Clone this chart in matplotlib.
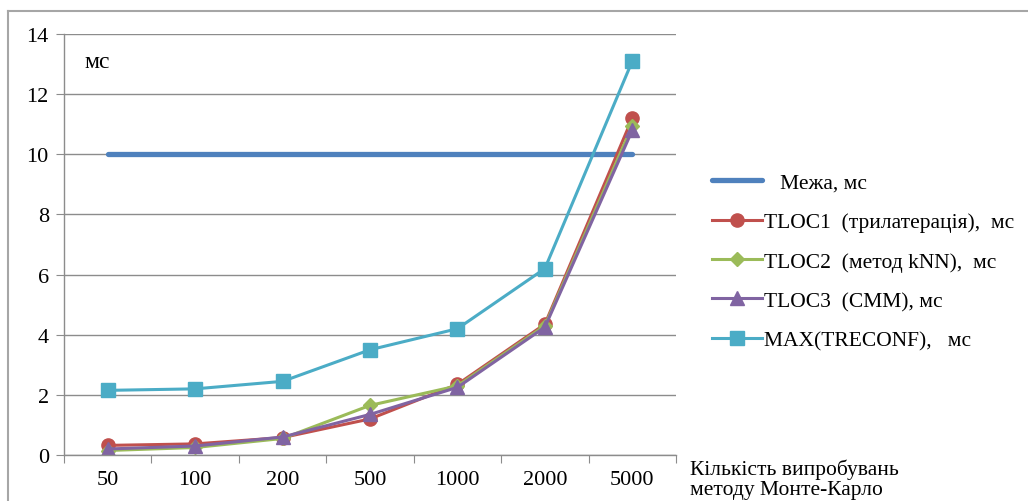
import matplotlib.pyplot as plt
from matplotlib.lines import Line2D

plt.rcParams['font.family'] = 'serif'
plt.rcParams['font.serif'] = ['Liberation Serif', 'DejaVu Serif']

trials = ['50', '100', '200', '500', '1000', '2000', '5000']
limit = [10, 10, 10, 10, 10, 10, 10]
tloc1 = [0.32, 0.37, 0.58, 1.2, 2.35, 4.35, 11.2]
tloc2 = [0.15, 0.25, 0.55, 1.65, 2.3, 4.3, 10.95]
tloc3 = [0.2, 0.3, 0.6, 1.35, 2.25, 4.25, 10.8]
treconf = [2.15, 2.2, 2.45, 3.5, 4.2, 6.2, 13.1]

x = list(range(len(trials)))

fig = plt.figure(figsize=(10.28, 5.02), dpi=100)
ax = fig.add_axes([0.0623, 0.0916, 0.5953, 0.8387])

ax.plot(x, limit, color='#4F81BD', lw=3.8, solid_capstyle='round',
        label='   Межа, мс')
ax.plot(x, tloc1, color='#C0504D', lw=2.2, marker='o', ms=9.5,
        label='TLOC1  (трилатерація),  мс')
ax.plot(x, tloc2, color='#9BBB59', lw=2.2, marker='D', ms=7,
        label='TLOC2  (метод kNN),  мс')
ax.plot(x, tloc3, color='#8064A2', lw=2.2, marker='^', ms=10.5,
        label='TLOC3  (СММ), мс')
ax.plot(x, treconf, color='#4BACC6', lw=2.2, marker='s', ms=9.5,
        label='MAX(TRECONF),   мс')

ax.set_xlim(-0.5, len(trials) - 0.5)
ax.set_ylim(0, 14)
ax.set_yticks(range(0, 15, 2))
ax.set_xticks([i - 0.5 for i in range(len(trials) + 1)])
ax.set_xticklabels([])
ax.set_xticks(x, minor=True)
ax.set_xticklabels(trials, minor=True)

ax.grid(axis='y', color='#8c8c8c', lw=1)
ax.set_axisbelow(True)
for s in ['top', 'right']:
    ax.spines[s].set_visible(False)
for s in ['left', 'bottom']:
    ax.spines[s].set_color('#8c8c8c')
    ax.spines[s].set_linewidth(1)

ax.tick_params(axis='y', length=6, color='#8c8c8c', labelsize=16, pad=5)
ax.tick_params(axis='x', which='major', length=6, color='#8c8c8c')
ax.tick_params(axis='x', which='minor', length=0, labelsize=16, pad=11)

ax.text(0.034, 0.935, 'мс', transform=ax.transAxes, fontsize=17,
        ha='left', va='center')

fig.text(0.671, 0.044, 'Кількість випробувань\nметоду Монте-Карло',
         fontsize=15.5, ha='left', va='center', linespacing=1.1)

ax.legend(loc='center left', bbox_to_anchor=(0.674, 0.477),
          bbox_transform=fig.transFigure, frameon=False, fontsize=15.5,
          handlelength=2.3, handletextpad=0.1, labelspacing=0.9)

# outer frame around the chart area
fig.add_artist(Line2D([0.0078, 0.0078], [0.0, 0.976], color='#a6a6a6', lw=1.5))
fig.add_artist(Line2D([0.0078, 1.0], [0.976, 0.976], color='#a6a6a6', lw=1.5))

fig.savefig('out.png', dpi=100)
